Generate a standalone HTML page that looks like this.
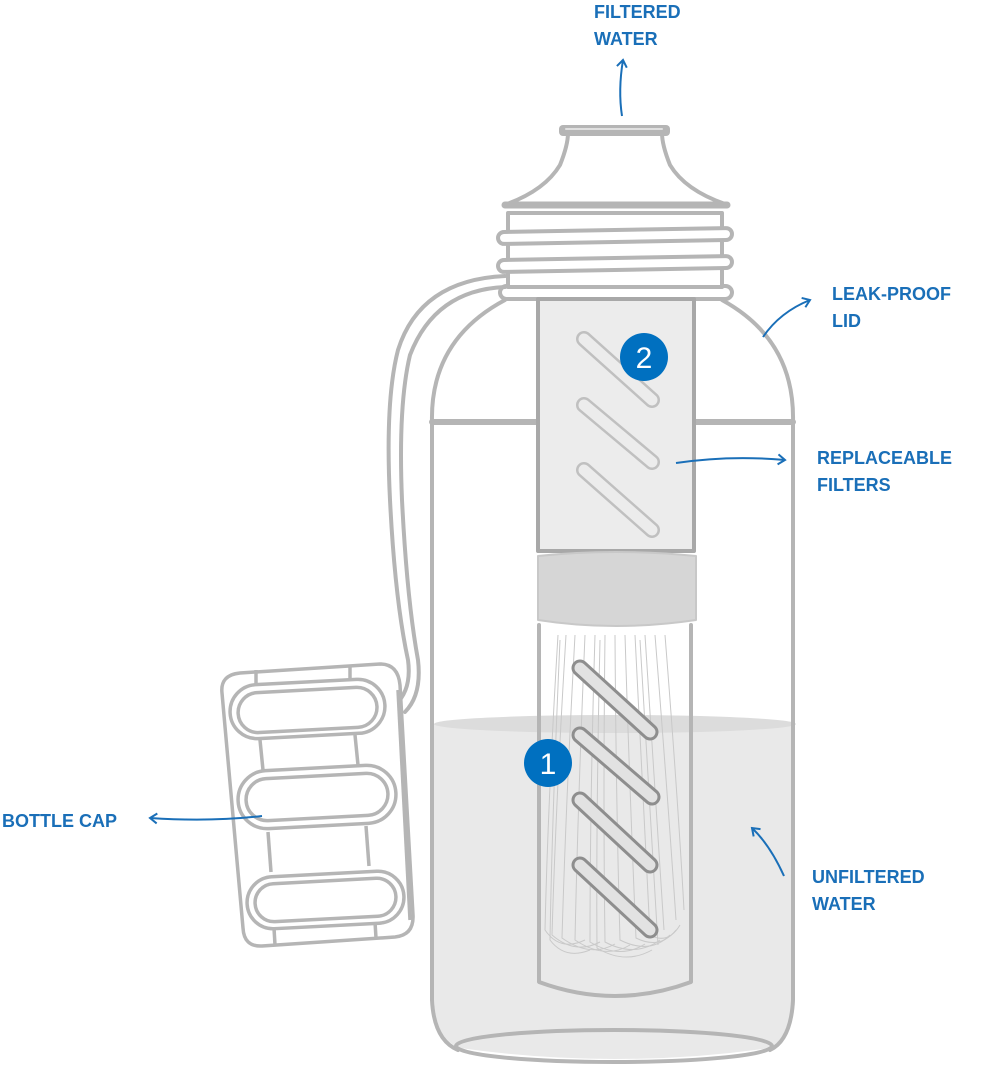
<!DOCTYPE html>
<html><head><meta charset="utf-8"><style>
html,body{margin:0;padding:0;background:#fff;}
svg{display:block}
text{font-family:"Liberation Sans",sans-serif;font-weight:bold;font-size:18px;fill:#1a6fb8;}
</style></head><body>
<svg width="1000" height="1067" viewBox="0 0 1000 1067" xmlns="http://www.w3.org/2000/svg">
<defs>
<marker id="ah" markerWidth="12" markerHeight="12" refX="9" refY="6" orient="auto" markerUnits="userSpaceOnUse">
<path d="M2,1 L9,6 L2,11" fill="none" stroke="#1a6fb8" stroke-width="2"/>
</marker>
</defs>
<g fill="none" stroke="#b5b5b5" stroke-width="4" stroke-linecap="round" stroke-linejoin="round">
<!-- water -->
<path d="M434,724 Q615,712 795,724 L795,1000 Q793,1040 770,1048 Q615,1070 460,1048 Q436,1040 434,1000 Z" fill="#e9e9e9" stroke="none"/>
<ellipse cx="615" cy="724" rx="181" ry="9" fill="#dcdcdc" stroke="none"/>
<!-- body -->
<path d="M432,422 L432,1000 Q434,1040 458,1050"/>
<path d="M793,422 L793,1000 Q791,1040 770,1050"/>
<ellipse cx="614" cy="1046" rx="158" ry="16"/>
<path d="M432,422 Q430,340 505,300"/>
<path d="M793,422 Q795,340 722,300"/>
<line x1="432" y1="422" x2="793" y2="422" stroke-width="6"/>
<!-- neck ring -->
<rect x="500" y="286" width="232" height="13" rx="6.5" fill="#fff"/>
<rect x="508" y="213" width="214" height="74" fill="#fff"/>
<rect x="498" y="230" width="234" height="12" rx="6" fill="#fff" transform="rotate(-1 615 236)"/>
<rect x="498" y="258" width="234" height="12" rx="6" fill="#fff" transform="rotate(-1 615 264)"/>
<!-- lid top -->
<path d="M507,204 Q545,190 560,165 Q568,145 568,133 L662,133 Q662,145 670,165 Q685,190 725,204" fill="#fff"/>
<line x1="505" y1="205" x2="727" y2="205" stroke-width="7"/>
<rect x="559" y="125" width="111" height="11" rx="4" fill="#b5b5b5" stroke="none"/>
<line x1="566" y1="129" x2="662" y2="129" stroke="#e0e0e0" stroke-width="2"/>
<!-- strap -->
<path d="M505,276 Q420,280 398,350 Q385,400 390,500 Q395,600 408,660 Q412,690 395,705"/>
<path d="M505,287 Q435,290 410,355 Q398,405 402,500 Q407,600 418,660 Q422,695 405,712"/>
<!-- filter tube -->
<rect x="538" y="299" width="156" height="252" fill="#ececec" stroke="#a8a8a8"/>
<path d="M538,556 Q615,548 696,556 L696,620 Q615,632 538,620 Z" fill="#d6d6d6" stroke="#c8c8c8" stroke-width="2"/>
<path d="M539,625 L539,982 Q615,1010 691,982 L691,625"/>
</g>
<!-- fibers -->
<g fill="none" stroke="#c9c9c9" stroke-width="1">
<path d="M558,635 Q548,800 545,930 Q560,952 585,940"/>
<path d="M566,635 Q556,800 552,935 Q575,955 600,942"/>
<path d="M575,635 Q566,800 562,938 Q590,958 615,944"/>
<path d="M585,635 Q578,800 575,940 Q605,960 630,945"/>
<path d="M595,635 Q590,800 590,942 Q620,960 645,944"/>
<path d="M605,635 Q603,800 605,942 Q635,958 660,940"/>
<path d="M615,635 Q616,800 620,940 Q650,955 670,935"/>
<path d="M625,635 Q630,800 636,938 Q660,950 676,930"/>
<path d="M635,635 Q643,800 650,935 Q668,945 680,925"/>
<path d="M645,635 Q656,800 664,930"/>
<path d="M655,635 Q668,800 676,920"/>
<path d="M665,635 Q678,800 684,910"/>
<path d="M560,640 Q552,820 550,940 Q565,960 590,950"/>
<path d="M600,640 Q596,820 597,948 Q625,965 652,950"/>
<path d="M640,640 Q650,820 658,945"/>
</g>
<!-- pills -->
<g fill="none" stroke-linecap="round">
<g stroke="#c0c0c0" stroke-width="16">
<line x1="584" y1="339" x2="652" y2="400"/>
<line x1="584" y1="405" x2="652" y2="462"/>
<line x1="584" y1="470" x2="652" y2="530"/>
</g>
<g stroke="#ececec" stroke-width="11">
<line x1="584" y1="339" x2="652" y2="400"/>
<line x1="584" y1="405" x2="652" y2="462"/>
<line x1="584" y1="470" x2="652" y2="530"/>
</g>
<g stroke="#8e8e8e" stroke-width="17">
<line x1="580" y1="668" x2="650" y2="732"/>
<line x1="580" y1="735" x2="652" y2="797"/>
<line x1="580" y1="800" x2="650" y2="865"/>
<line x1="580" y1="865" x2="650" y2="930"/>
</g>
<g stroke="#e2e2e2" stroke-width="11">
<line x1="580" y1="668" x2="650" y2="732"/>
<line x1="580" y1="735" x2="652" y2="797"/>
<line x1="580" y1="800" x2="650" y2="865"/>
<line x1="580" y1="865" x2="650" y2="930"/>
</g>
</g>
<!-- badges -->
<circle cx="644" cy="357" r="24" fill="#0070c0"/>
<text x="644" y="368" text-anchor="middle" style="fill:#fff;font-weight:normal;font-size:30px">2</text>
<circle cx="548" cy="763" r="24" fill="#0070c0"/>
<text x="548" y="774" text-anchor="middle" style="fill:#fff;font-weight:normal;font-size:30px">1</text>
<!-- cap -->
<g fill="#fff" stroke="#b5b5b5" stroke-width="3.5">
<path d="M240,673 L380,664 Q398,664 400,685 L413,915 Q414,935 395,937 L262,946 Q244,947 243,928 L222,693 Q220,675 240,673 Z"/>
<path d="M398,690 L410,920" fill="none"/>
<g fill="none">
<rect x="230" y="682" width="155" height="54" rx="27" transform="rotate(-3 307 709)"/>
<rect x="238" y="690" width="139" height="40" rx="20" transform="rotate(-3 307 709)"/>
<rect x="238" y="768" width="158" height="58" rx="29" transform="rotate(-3 317 797)"/>
<rect x="246" y="776" width="142" height="42" rx="21" transform="rotate(-3 317 797)"/>
<rect x="247" y="874" width="157" height="52" rx="26" transform="rotate(-3 325 900)"/>
<rect x="255" y="881" width="141" height="38" rx="19" transform="rotate(-3 325 900)"/>
<line x1="260" y1="740" x2="263" y2="770"/><line x1="355" y1="735" x2="358" y2="765"/>
<line x1="268" y1="832" x2="271" y2="872"/><line x1="366" y1="826" x2="369" y2="866"/>
<line x1="256" y1="670" x2="256" y2="686"/><line x1="350" y1="665" x2="350" y2="680"/>
<line x1="274" y1="928" x2="275" y2="945"/><line x1="375" y1="922" x2="376" y2="938"/>
</g>
</g>
<!-- arrows -->
<g fill="none" stroke="#1a6fb8" stroke-width="2" marker-end="url(#ah)">
<path d="M622,116 Q618,90 623,60"/>
<path d="M763,337 Q780,312 810,300"/>
<path d="M676,463 Q730,455 785,460"/>
<path d="M262,816 Q210,822 150,818"/>
<path d="M784,876 Q770,845 752,828"/>
</g>
<text x="594" y="18">FILTERED</text><text x="594" y="45">WATER</text>
<text x="832" y="300">LEAK-PROOF</text><text x="832" y="327">LID</text>
<text x="817" y="464">REPLACEABLE</text><text x="817" y="491">FILTERS</text>
<text x="2" y="827">BOTTLE CAP</text>
<text x="812" y="883">UNFILTERED</text><text x="812" y="910">WATER</text>
</svg>
</body></html>
